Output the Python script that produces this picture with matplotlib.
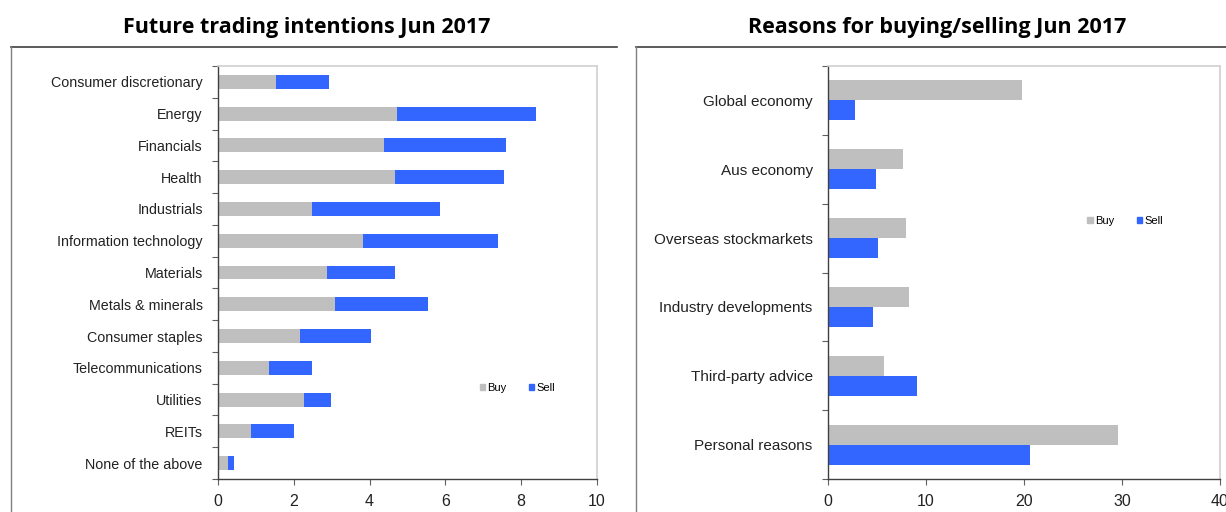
import numpy as np
import matplotlib.pyplot as plt
from matplotlib.patches import Patch
from matplotlib.lines import Line2D

# left panel: future trading intentions (per cent)
sectors = ['Consumer discretionary', 'Energy', 'Financials', 'Health', 'Industrials',
           'Information technology', 'Materials', 'Metals & minerals', 'Consumer staples',
           'Telecommunications', 'Utilities', 'REITs', 'None of the above']
sector_buy = [1.52, 4.73, 4.39, 4.68, 2.49, 3.82, 2.87, 3.08, 2.16, 1.34, 2.27, 0.88, 0.27]
sector_sell = [1.41, 3.65, 3.21, 2.87, 3.36, 3.57, 1.81, 2.46, 1.89, 1.13, 0.71, 1.12, 0.16]

# right panel: reasons for buying/selling (per cent)
reasons = ['Global economy', 'Aus economy', 'Overseas stockmarkets',
           'Industry developments', 'Third-party advice', 'Personal reasons']
reason_buy = [19.8, 7.7, 7.95, 8.3, 5.7, 29.6]
reason_sell = [2.8, 4.9, 5.1, 4.6, 9.1, 20.6]

left_ticks = [0, 2, 4, 6, 8, 10]
right_ticks = [0, 10, 20, 30, 40]

GREY = '#BFBFBF'
BLUE = '#3366FF'
sans = ['Liberation Sans', 'DejaVu Sans']
title_font = ['Open Sans', 'DejaVu Sans']

fig = plt.figure(figsize=(12.26, 5.12), dpi=100)

# helper: pixel position -> figure fraction
def px(x, y):
    return x / 1226, 1 - y / 512

# panel borders (top and left edges only)
for x0, x1 in [(10.5, 617), (635.5, 1226)]:
    fig.add_artist(Line2D([px(x0, 0)[0], px(x1, 0)[0]], [px(0, 46.5)[1]] * 2,
                          color='#404040', lw=1.2, transform=fig.transFigure))
    fig.add_artist(Line2D([px(x0, 0)[0]] * 2, [px(0, 46.5)[1], 0],
                          color='#808080', lw=1.0, transform=fig.transFigure))

fig.text(*px(307, 27.5), 'Future trading intentions Jun 2017', ha='center', va='center',
         fontsize=15.5, fontweight='bold', family=title_font)
fig.text(*px(937, 27.5), 'Reasons for buying/selling Jun 2017', ha='center', va='center',
         fontsize=15.5, fontweight='bold', family=title_font)


def style_axes(ax, labels, fs):
    n = len(labels)
    ax.set_ylim(n - 0.5, -0.5)
    ax.set_yticks(np.arange(n + 1) - 0.5)
    ax.set_yticklabels([])
    ax.set_yticks(np.arange(n), minor=True)
    ax.set_yticklabels(labels, minor=True, fontsize=fs, family=sans, color='#222222')
    ax.tick_params(axis='y', which='major', length=4, width=0.8, color='#606060')
    ax.tick_params(axis='y', which='minor', length=0, pad=11)
    ax.tick_params(axis='x', length=4, width=0.8, color='#606060', pad=7)
    for lab in ax.get_xticklabels():
        lab.set_family(sans)
        lab.set_fontsize(11.5)
        lab.set_color('#222222')
    for s in ['left', 'bottom']:
        ax.spines[s].set_color('#404040')
        ax.spines[s].set_linewidth(1.0)
    for s in ['top', 'right']:
        ax.spines[s].set_color('#D0D0D0')
        ax.spines[s].set_linewidth(1.2)


# left chart
ax1 = fig.add_axes([218 / 1226, 1 - 479 / 512, 379 / 1226, 413 / 512])
y1 = np.arange(len(sectors))
ax1.barh(y1, sector_buy, height=0.44, color=GREY, label='Buy')
ax1.barh(y1, sector_sell, left=sector_buy, height=0.44, color=BLUE, label='Sell')
ax1.set_xlim(0, 10)
ax1.set_xticks(left_ticks)
style_axes(ax1, sectors, 10.3)

# right chart
ax2 = fig.add_axes([828 / 1226, 1 - 479 / 512, 392 / 1226, 413 / 512])
y2 = np.arange(len(reasons))
ax2.barh(y2 - 0.145, reason_buy, height=0.29, color=GREY, label='Buy')
ax2.barh(y2 + 0.145, reason_sell, height=0.29, color=BLUE, label='Sell')
ax2.set_xlim(0, 40)
ax2.set_xticks(right_ticks)
style_axes(ax2, reasons, 11)

handles = [Patch(color=GREY, label='Buy'), Patch(color=BLUE, label='Sell')]
for ax, pos in [(ax1, (0.79, 0.22)), (ax2, (0.758, 0.625))]:
    ax.legend(handles=handles, loc='center', bbox_to_anchor=pos, ncol=2,
              frameon=False, handlelength=0.5, handleheight=0.5,
              handletextpad=0.2, columnspacing=2.0,
              prop={'family': sans, 'size': 8})

fig.savefig('out.png', dpi=100)
